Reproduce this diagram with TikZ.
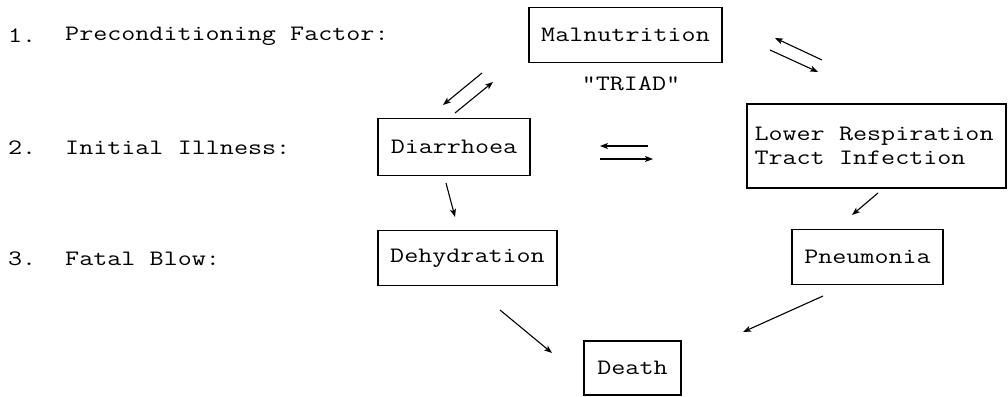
\documentclass[tikz,border=0pt]{standalone}
\usepackage{fontspec}
\setmonofont{Latin Modern Mono}[FakeStretch=1.24]
\usetikzlibrary{arrows.meta}
\newcommand\msp{\hspace*{0.651em}}
\begin{document}
\begin{tikzpicture}[x=1pt,y=-1pt,
  every node/.style={font=\ttfamily\fontsize{22}{24}\selectfont},
  box/.style={draw,line width=1.3pt,inner sep=0pt,align=center},
  lbl/.style={anchor=west,inner sep=0pt},
  arr/.style={line width=1.1pt,-{Stealth[length=8pt,width=6pt,inset=2pt]}}]
\useasboundingbox (0,0) rectangle (1008,396);
% row labels
\node[lbl] (n1) at (8,36) {1.};
\node[lbl] (t1) at (65,36) {Preconditioning\msp Factor:};
\node[lbl] (n2) at (8,148) {2.};
\node[lbl] (t2) at (65,148) {Initial\msp Illness:};
\node[lbl] (n3) at (8,259) {3.};
\node[lbl] (t3) at (65,259) {Fatal\msp Blow:};
% boxes
\node[box,minimum width=193pt,minimum height=55pt] (mal) at (625.5,35) {Malnutrition};
\node[box,minimum width=152pt,minimum height=57pt] (dia) at (454,147) {Diarrhoea};
\node[box,minimum width=259pt,minimum height=84pt,align=left,text width=244pt] (lri) at (876.5,146) {Lower\msp Respiration\\Tract\msp Infection};
\node[box,minimum width=179pt,minimum height=55pt] (deh) at (467.5,258) {Dehydration};
\node[box,minimum width=151pt,minimum height=55pt] (pne) at (867.5,257) {Pneumonia};
\node[box,minimum width=97pt,minimum height=54pt] (dea) at (632.5,368) {Death};
\node[inner sep=0pt] (triad) at (631,84) {"TRIAD"};
% arrow end points
\coordinate (a1s) at (822,60); \coordinate (a1e) at (775,38);
\coordinate (a2s) at (770,50); \coordinate (a2e) at (818,72);
\coordinate (b1s) at (482,73); \coordinate (b1e) at (443,105);
\coordinate (b2s) at (455,113); \coordinate (b2e) at (493,82);
\coordinate (c1s) at (648,146); \coordinate (c1e) at (600,146);
\coordinate (c2s) at (600,159); \coordinate (c2e) at (653,159);
\coordinate (ds) at (446,183); \coordinate (de) at (455,217);
\coordinate (es) at (878,193); \coordinate (ee) at (852,215);
\coordinate (fs) at (500,310); \coordinate (fe) at (552,353);
\coordinate (gs) at (823,296); \coordinate (ge) at (743,332);
\draw[arr] (a1s) -- (a1e);
\draw[arr] (a2s) -- (a2e);
\draw[arr] (b1s) -- (b1e);
\draw[arr] (b2s) -- (b2e);
\draw[arr] (c1s) -- (c1e);
\draw[arr] (c2s) -- (c2e);
\draw[arr] (ds) -- (de);
\draw[arr] (es) -- (ee);
\draw[arr] (fs) -- (fe);
\draw[arr] (gs) -- (ge);
\end{tikzpicture}
\end{document}
